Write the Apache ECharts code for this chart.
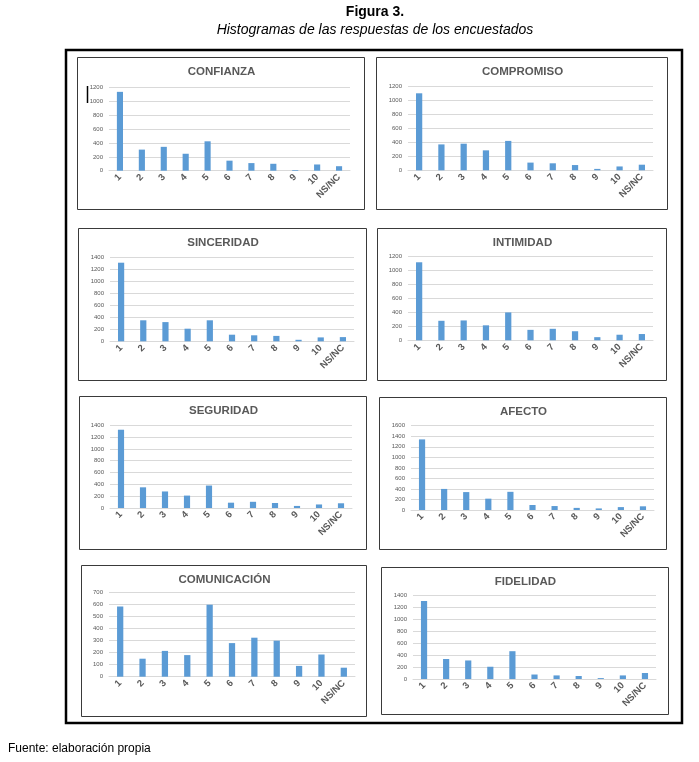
<!DOCTYPE html>
<html>
<head>
	<meta charset="utf-8">
	<title>Figura 3 - Histogramas</title>
	<script src="https://cdn.jsdelivr.net/npm/echarts@6.0.0/dist/echarts.min.js"></script>
	<style>
		html, body { margin: 0; padding: 0; background: #fff; }
	</style>
</head>
<body>
	<div id="main" style="width: 699px;height: 762px;"></div>
<script type="text/javascript">
	// categorias del eje x
	var categorias = ['1', '2', '3', '4', '5', '6', '7', '8', '9', '10', 'NS/NC'];

	// respuestas por dimension
	var confianza    = [1140, 305, 345, 245, 425, 145, 110, 100, 10, 90, 65];
	var compromiso   = [1100, 370, 380, 285, 420, 110, 100, 75, 20, 55, 80];
	var sinceridad   = [1310, 350, 320, 210, 350, 110, 100, 90, 25, 65, 70];
	var intimidad    = [1120, 280, 285, 215, 400, 150, 165, 130, 45, 80, 90];
	var seguridad    = [1325, 350, 280, 210, 380, 90, 105, 85, 35, 60, 80];
	var afecto       = [1340, 400, 340, 215, 345, 95, 75, 40, 30, 55, 70];
	var comunicacion = [585, 150, 215, 180, 600, 280, 325, 300, 90, 185, 75];
	var fidelidad    = [1305, 335, 310, 205, 465, 75, 60, 50, 15, 60, 100];

	var titulos = ['CONFIANZA', 'COMPROMISO', 'SINCERIDAD', 'INTIMIDAD',
		'SEGURIDAD', 'AFECTO', 'COMUNICACIÓN', 'FIDELIDAD'];
	var valores = [confianza, compromiso, sinceridad, intimidad,
		seguridad, afecto, comunicacion, fidelidad];
	// maximo y paso del eje y de cada histograma
	var maximos = [1200, 1200, 1400, 1200, 1400, 1600, 700, 1400];
	var pasos   = [200, 200, 200, 200, 200, 200, 100, 200];

	// cajas de cada grafico [x0, y0, x1, y1] y area de trazado [left, top, width, height]
	var cajas = [
		[77, 57, 364, 209], [376, 57, 667, 209],
		[78, 228, 366, 380], [377, 228, 666, 380],
		[79, 396, 366, 549], [379, 397, 666, 549],
		[81, 565, 366, 716], [381, 567, 668, 714]
	];
	var areas = [
		[109, 87.7, 241, 83], [408, 86.3, 245, 84],
		[110, 257.3, 244, 84], [408, 256.7, 245, 83.6],
		[110, 425.3, 242, 82.7], [411, 425.7, 243, 84.3],
		[109, 592.7, 246, 84], [413, 595.3, 243, 83.7]
	];

	var fuente = "'Liberation Sans', Arial, sans-serif";
	var gris = '#595959';

	var myChart = echarts.init(document.getElementById('main'));

	var grid = [], xAxis = [], yAxis = [], series = [];
	var graphic = [];

	// marco exterior
	graphic.push({
		type: 'rect',
		shape: { x: 66, y: 50, width: 616, height: 673 },
		style: { fill: 'none', stroke: '#000', lineWidth: 2.5 }
	});

	for (var i = 0; i < titulos.length; i++) {
		var c = cajas[i], a = areas[i];
		graphic.push({
			type: 'rect',
			shape: { x: c[0] + 0.5, y: c[1] + 0.5, width: c[2] - c[0], height: c[3] - c[1] },
			style: { fill: 'none', stroke: '#3a3a3a', lineWidth: 1 }
		});
		graphic.push({
			type: 'text',
			style: {
				text: titulos[i],
				x: (c[0] + c[2]) / 2 + 1,
				y: c[1] + 15,
				textAlign: 'center',
				textVerticalAlign: 'middle',
				font: 'bold 11.5px ' + fuente,
				fill: gris
			}
		});
		grid.push({
			left: a[0], top: a[1], width: a[2], height: a[3],
			containLabel: false,
			outerBoundsMode: 'none'
		});
		xAxis.push({
			type: 'category',
			gridIndex: i,
			data: categorias,
			axisLine: { lineStyle: { color: '#d9d9d9' } },
			axisTick: { show: false },
			axisLabel: {
				interval: 0,
				rotate: 45,
				margin: 5,
				fontSize: 9.5,
				fontWeight: 'bold',
				fontFamily: fuente,
				color: gris
			}
		});
		yAxis.push({
			type: 'value',
			gridIndex: i,
			min: 0,
			max: maximos[i],
			interval: pasos[i],
			axisLine: { show: false },
			axisTick: { show: false },
			splitLine: { lineStyle: { color: '#d9d9d9' } },
			axisLabel: {
				margin: 6,
				fontSize: 6,
				fontFamily: fuente,
				color: gris,
				formatter: function (v) { return String(v); }
			}
		});
		series.push({
			name: titulos[i],
			type: 'bar',
			xAxisIndex: i,
			yAxisIndex: i,
			barWidth: '28%',
			itemStyle: { color: '#5B9BD5' },
			data: valores[i]
		});
	}

	// marca negra sobre las etiquetas de CONFIANZA
	graphic.push({
		type: 'line',
		shape: { x1: 87.5, y1: 86, x2: 87.5, y2: 103 },
		style: { stroke: '#000', lineWidth: 1.5 }
	});

	// textos de la figura
	graphic.push({
		type: 'text',
		style: {
			text: 'Figura 3.',
			x: 375, y: 12,
			textAlign: 'center', textVerticalAlign: 'middle',
			font: 'bold 14px ' + fuente, fill: '#000'
		}
	});
	graphic.push({
		type: 'text',
		style: {
			text: 'Histogramas de las respuestas de los encuestados',
			x: 375, y: 30,
			textAlign: 'center', textVerticalAlign: 'middle',
			font: 'italic 14px ' + fuente, fill: '#000'
		}
	});
	graphic.push({
		type: 'text',
		style: {
			text: 'Fuente: elaboración propia',
			x: 8, y: 749,
			textAlign: 'left', textVerticalAlign: 'middle',
			font: '12px ' + fuente, fill: '#000'
		}
	});

	var option = {
		animation: false,
		backgroundColor: '#fff',
		grid: grid,
		xAxis: xAxis,
		yAxis: yAxis,
		series: series,
		graphic: graphic
	};
	myChart.setOption(option);
</script>
</body>
</html>
